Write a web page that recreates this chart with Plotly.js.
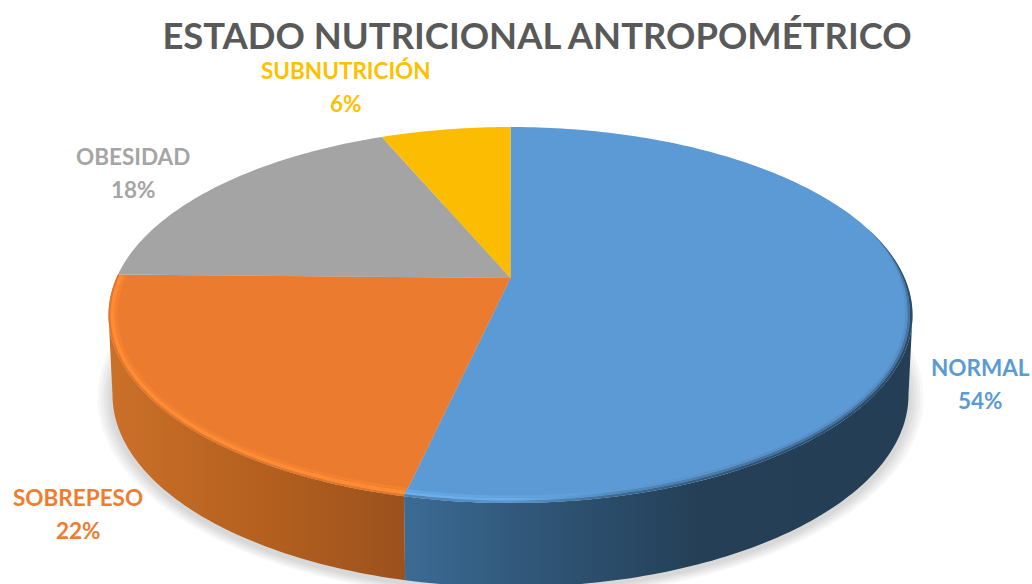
<!DOCTYPE html>
<html>
<head>
<meta charset="utf-8">
<script src="https://cdn.plot.ly/plotly-3.0.1.min.js"></script>
<style>html,body{margin:0;padding:0;background:#fff}#chart{width:1032px;height:584px}</style>
</head>
<body>
<div id="chart"></div>
<script>
// Data
const categories = ['NORMAL', 'SOBREPESO', 'OBESIDAD', 'SUBNUTRICIÓN'];
const values = [53.5, 21.8, 18.4, 6.3];
const colors = ['#5B9BD5', '#ED7D31', '#A5A5A5', '#FFC000'];
const faceColors = ['#5B9AD5', '#EB7B2F', '#A4A4A4', '#FBBC02'];
const labelCenters = [[980, 367], [78, 497], [133, 156], [346, 70]];
const chartTitle = 'ESTADO NUTRICIONAL ANTROPOMÉTRICO';

// Perspective of the tilted disc
const apex = [510.5, 278], rimCy = 315, rimRx = 402, rimRy = 188;
const baseCy = 395, baseRy = 192, baseRxScale = 0.99;
const q = 0.197, kY = 180.7, kX = rimRx * Math.sqrt(1 - q * q);

const rad = d => d * Math.PI / 180;
function rim(deg, inset) {
  const u = Math.sin(rad(deg)), v = -Math.cos(rad(deg)), w = 1 - q * v;
  const x = apex[0] + kX * u / w, y = apex[1] + kY * v / w;
  const d = inset || 0;
  return [apex[0] + (x - apex[0]) * (rimRx - d) / rimRx, rimCy + (y - rimCy) * (rimRy - d) / rimRy];
}
function base(deg) {
  const p = rim(deg);
  return [apex[0] + (p[0] - apex[0]) * baseRxScale, baseCy + (p[1] - rimCy) * baseRy / rimRy];
}
function arc(a, b, fn) {
  const out = [], n = Math.max(2, Math.ceil(Math.abs(b - a)));
  for (let i = 0; i <= n; i++) out.push(fn(a + (b - a) * i / n));
  return out;
}
function poly(pts, extra) {
  return Object.assign({
    type: 'scatter', mode: 'none', fill: 'toself', hoverinfo: 'skip', showlegend: false,
    x: pts.map(p => p[0]), y: pts.map(p => p[1])
  }, extra);
}
function grad(start, stop, stops) {
  return {type: 'horizontal', start, stop, colorscale: stops};
}

const total = values.reduce((a, b) => a + b, 0);
let acc = 0;
const slices = values.map(v => { const s = acc; acc += v; return [s / total * 360, acc / total * 360]; });
const sideRight = Math.acos(-q) * 180 / Math.PI, sideLeft = 360 - sideRight;

const traces = [];
// soft shadow below the disc
[15, 12, 9, 6, 3].forEach(e => {
  const pts = arc(0, 360, d => {
    const p = base(d);
    return [apex[0] + (p[0] - apex[0]) * (398 + e) / 398, baseCy + 3 + (p[1] - baseCy) * (baseRy + e * 0.6) / baseRy];
  });
  traces.push(poly(pts, {fillcolor: 'rgba(0,0,0,0.03)'}));
});
// side walls
const wallB = slices[0];
const blueTop = arc(sideRight, wallB[1], rim), blueBase = arc(wallB[1], sideRight, base);
traces.push(poly(blueTop.concat(blueBase), {
  fillgradient: grad(405, 915, [[0, '#3B6B94'], [0.2, '#325A7E'], [0.58, '#243F56'], [1, '#243E55']])
}));
const wallO = slices[1];
const orTop = arc(wallO[0], sideLeft, rim), orBase = arc(sideLeft, wallO[0], base);
traces.push(poly(orTop.concat(orBase), {
  fillgradient: grad(108, 412, [[0, '#CB7029'], [0.5, '#B5601F'], [1, '#9A511D']])
}));
// top face
slices.forEach((s, i) => {
  traces.push(poly([apex].concat(arc(s[0], s[1], rim)).concat([apex]), {fillcolor: faceColors[i]}));
});
// bevel along the rim, tapering to nothing at its start so it has no hard end
function band(a, b, d0, d1, taper, style) {
  const tp = t => taper ? Math.min(1, Math.max(0, (t - a) / taper)) : 1;
  const outer = arc(a, b, t => rim(t, d0 * tp(t))), inner = arc(b, a, t => rim(t, d1 * tp(t)));
  return poly(outer.concat(inner), style);
}
const blueBands = [
  [0, 2.5, [[0, '#4E7FAB'], [0.2, '#5C96CB'], [0.4, '#3F6C94'], [0.7, '#2F5270'], [1, '#2B4A66']]],
  [2.5, 5, [[0, '#6BB0F0'], [0.22, '#69ABE8'], [0.42, '#5189BC'], [0.7, '#4573A0'], [1, '#4573A0']]],
  [5, 7.5, [[0, '#64A6E4'], [0.22, '#62A3DF'], [0.42, '#5B9AD5'], [0.7, '#5690C6'], [1, '#5690C6']]]
];
blueBands.forEach(b => traces.push(band(sideRight - 28, slices[0][1], b[0], b[1], 26, {fillgradient: grad(405, 915, b[2])})));
[[0, 2, '#DE772F'], [2, 6, '#FF8B33'], [6, 9, '#F38131']].forEach(b => {
  traces.push(band(slices[1][0], slices[1][1], b[0], b[1], 0, {fillcolor: b[2]}));
});

// labels
const annotations = [];
categories.forEach((c, i) => {
  const font = {family: 'Lato, Carlito, sans-serif', size: 22.5, color: colors[i]};
  annotations.push({x: labelCenters[i][0], y: labelCenters[i][1], text: '<b>' + c + '</b>', showarrow: false, xanchor: 'center', yanchor: 'middle', font});
  annotations.push({x: labelCenters[i][0], y: labelCenters[i][1] + 33, text: '<b>' + Math.round(values[i] / total * 100) + '%</b>', showarrow: false, xanchor: 'center', yanchor: 'middle', font});
});

const layout = {
  width: 1032, height: 584,
  margin: {l: 0, r: 0, t: 0, b: 0},
  paper_bgcolor: '#fff', plot_bgcolor: '#fff',
  showlegend: false, hovermode: false,
  title: {text: '<b>' + chartTitle + '</b>', x: 537 / 1032, xanchor: 'center', y: 1 - 36 / 584, yanchor: 'middle',
    font: {family: 'Lato, Carlito, sans-serif', size: 36.4, color: '#595959'}},
  xaxis: {range: [0, 1032], visible: false, fixedrange: true},
  yaxis: {range: [584, 0], visible: false, fixedrange: true},
  annotations
};
Plotly.newPlot('chart', traces, layout, {displayModeBar: false, staticPlot: true});
</script>
</body>
</html>
